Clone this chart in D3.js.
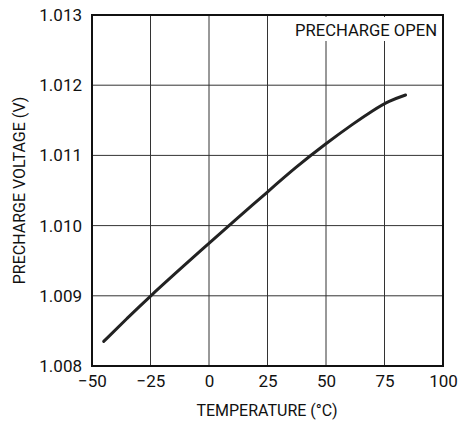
<!DOCTYPE html>
<html><head><meta charset="utf-8">
<script src="https://cdn.jsdelivr.net/npm/d3@7"></script>
<style>
body{margin:0;background:#fff;}
text{font-family:Roboto,"Liberation Sans",Arial,sans-serif;fill:#111;}
</style></head>
<body><svg id="c" width="474" height="423"></svg>
<script>
const temps = [-45, -35, -25, -10, 0, 12, 25, 37, 50, 62, 70, 77, 84];
const volts = [1.00835, 1.00868, 1.00900, 1.00945, 1.00975, 1.01010, 1.01048, 1.01083, 1.01117, 1.01146, 1.01164, 1.01178, 1.01186];
const xTicks = [-50, -25, 0, 25, 50, 75, 100];
const yTicks = [1.008, 1.009, 1.010, 1.011, 1.012, 1.013];
const xLabel = "TEMPERATURE (°C)";
const yLabel = "PRECHARGE VOLTAGE (V)";
const note = "PRECHARGE OPEN";

const svg = d3.select("#c");
const L = 92, R = 443, T = 15, B = 366;
const x = d3.scaleLinear().domain([-50, 100]).range([L, R]);
const y = d3.scaleLinear().domain([1.008, 1.013]).range([B, T]);

svg.append("g").selectAll("line").data(xTicks.slice(1, -1)).join("line")
  .attr("x1", d => x(d)).attr("x2", d => x(d)).attr("y1", T).attr("y2", B)
  .attr("stroke", "#333").attr("stroke-width", 1);
svg.append("g").selectAll("line").data(yTicks.slice(1, -1)).join("line")
  .attr("x1", L).attr("x2", R).attr("y1", d => y(d)).attr("y2", d => y(d))
  .attr("stroke", "#333").attr("stroke-width", 1);

svg.append("rect").attr("x", 290).attr("y", T + 2).attr("width", R - 292).attr("height", 24).attr("fill", "#fff");
svg.append("text").attr("x", 437).attr("y", 36).attr("text-anchor", "end")
  .attr("font-size", 16).attr("textLength", 142).attr("lengthAdjust", "spacingAndGlyphs").text(note);

svg.append("rect").attr("x", L).attr("y", T).attr("width", R - L).attr("height", B - T)
  .attr("fill", "none").attr("stroke", "#111").attr("stroke-width", 2);

const fmtX = d => d < 0 ? "\u2212" + Math.abs(d) : String(d);
const gx = svg.append("g").attr("transform", `translate(0,${B})`)
  .call(d3.axisBottom(x).tickValues(xTicks).tickSize(0).tickPadding(9).tickFormat(fmtX));
gx.select(".domain").remove();
gx.selectAll("text").attr("font-size", 17).attr("font-family", null).attr("fill", "#111");

const gy = svg.append("g").attr("transform", `translate(${L},0)`)
  .call(d3.axisLeft(y).tickValues(yTicks).tickSize(0).tickPadding(10).tickFormat(d3.format(".3f")));
gy.select(".domain").remove();
gy.selectAll("text").attr("font-size", 17).attr("font-family", null).attr("fill", "#111");

svg.append("text").attr("x", 267).attr("y", 416).attr("text-anchor", "middle")
  .attr("font-size", 16).text(xLabel);
svg.append("text").attr("transform", `translate(25,${(T + B) / 2}) rotate(-90)`)
  .attr("text-anchor", "middle").attr("font-size", 16).text(yLabel);

const line = d3.line().x((d, i) => x(temps[i])).y((d, i) => y(volts[i])).curve(d3.curveBasis);
svg.append("path").datum(volts).attr("d", line)
  .attr("fill", "none").attr("stroke", "#222").attr("stroke-width", 3).attr("stroke-linecap", "round");
</script></body></html>
